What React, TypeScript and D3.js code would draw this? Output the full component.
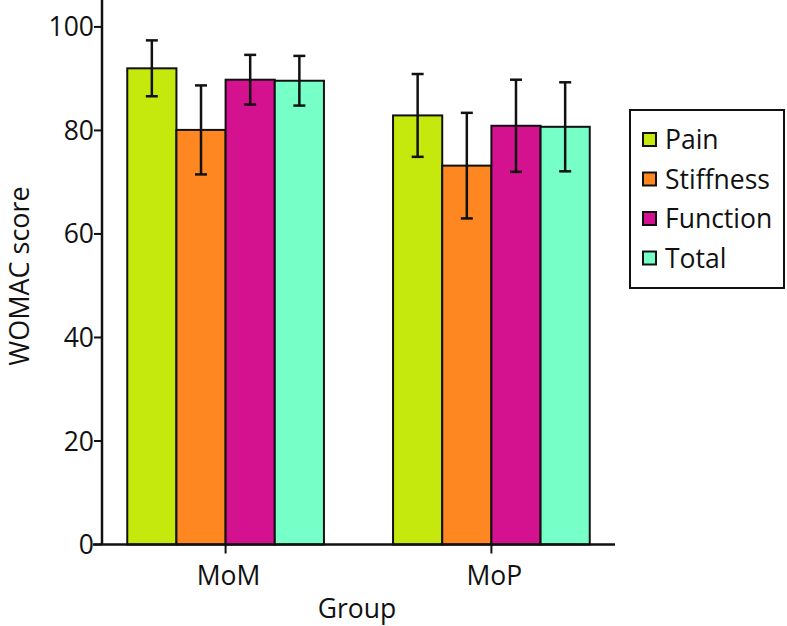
import React from "react";
import * as d3 from "d3";

const groups = ["MoM", "MoP"];
const seriesNames = ["Pain", "Stiffness", "Function", "Total"];
const seriesColors = ["#c6e90d", "#fe8722", "#d4118f", "#76ffc6"];
const means = [
  [92.0, 80.1, 89.8, 89.6],
  [82.9, 73.2, 80.9, 80.7],
];
const sds = [
  [5.4, 8.6, 4.8, 4.8],
  [8.0, 10.2, 8.9, 8.6],
];
const yTicks = [0, 20, 40, 60, 80, 100];

const W = 787;
const H = 626;
const left = 102;
const right = 615;
const bottom = 544.5;
const top = 0;

export default function App() {
  const y = d3.scaleLinear().domain([0, 105.2]).range([bottom, top]);
  const x0 = d3
    .scaleBand()
    .domain(groups)
    .range([left, right])
    .paddingInner(0.26)
    .paddingOuter(0.095);
  const x1 = d3.scaleBand().domain(seriesNames).range([0, x0.bandwidth()]);
  const font = "'Open Sans', sans-serif";
  const fs = 26.5;
  const capW = 12;

  return (
    <svg
      width={W}
      height={H}
      style={{ position: "absolute", left: 0, top: 0, background: "#fff" }}
      fontFamily={font}
    >
      {groups.map((g, gi) => (
        <g key={g}>
          {seriesNames.map((s, si) => {
            const xs = (x0(g) as number) + (x1(s) as number);
            const w = x1.bandwidth();
            const m = means[gi][si];
            const sd = sds[gi][si];
            const cx = xs + w / 2;
            return (
              <g key={s}>
                <rect
                  x={xs}
                  y={y(m)}
                  width={w}
                  height={y(0) - y(m)}
                  fill={seriesColors[si]}
                  stroke="#111"
                  strokeWidth={2}
                />
                <line x1={cx} x2={cx} y1={y(m + sd)} y2={y(m - sd)} stroke="#111" strokeWidth={2.5} />
                <line x1={cx - capW / 2} x2={cx + capW / 2} y1={y(m + sd)} y2={y(m + sd)} stroke="#111" strokeWidth={2.5} />
                <line x1={cx - capW / 2} x2={cx + capW / 2} y1={y(m - sd)} y2={y(m - sd)} stroke="#111" strokeWidth={2.5} />
              </g>
            );
          })}
        </g>
      ))}

      {/* Y axis */}
      <line x1={left} x2={left} y1={top} y2={bottom} stroke="#111" strokeWidth={2.5} />
      {yTicks.map((t) => (
        <g key={t}>
          <line x1={left - 8} x2={left} y1={y(t)} y2={y(t)} stroke="#111" strokeWidth={2} />
          <text x={left - 8} y={y(t)} dy="0.36em" textAnchor="end" fontSize={fs} fill="#111">
            {t}
          </text>
        </g>
      ))}

      {/* X axis */}
      <line x1={left - 9} x2={right} y1={bottom} y2={bottom} stroke="#111" strokeWidth={2.5} />
      {groups.map((g) => {
        const cx = (x0(g) as number) + x0.bandwidth() / 2;
        return (
          <g key={g}>
            <line x1={cx} x2={cx} y1={bottom} y2={bottom + 9} stroke="#111" strokeWidth={2} />
            <text x={cx + 3} y={585} textAnchor="middle" fontSize={fs} fill="#111">
              {g}
            </text>
          </g>
        );
      })}

      <text x={357} y={618} textAnchor="middle" fontSize={fs} fill="#111">
        Group
      </text>
      <text
        transform={`translate(29,276) rotate(-90)`}
        textAnchor="middle"
        fontSize={27}
        fill="#111"
      >
        WOMAC score
      </text>

      {/* Legend */}
      <rect x={630} y={110} width={154} height={178} fill="#fff" stroke="#111" strokeWidth={2} />
      {seriesNames.map((s, i) => {
        const cy = 139.5 + i * 39.5;
        return (
          <g key={s}>
            <rect x={643} y={cy - 6.5} width={13} height={13} fill={seriesColors[i]} stroke="#111" strokeWidth={2} />
            <text x={665} y={cy} dy="0.36em" fontSize={fs} fill="#111">
              {s}
            </text>
          </g>
        );
      })}
    </svg>
  );
}
